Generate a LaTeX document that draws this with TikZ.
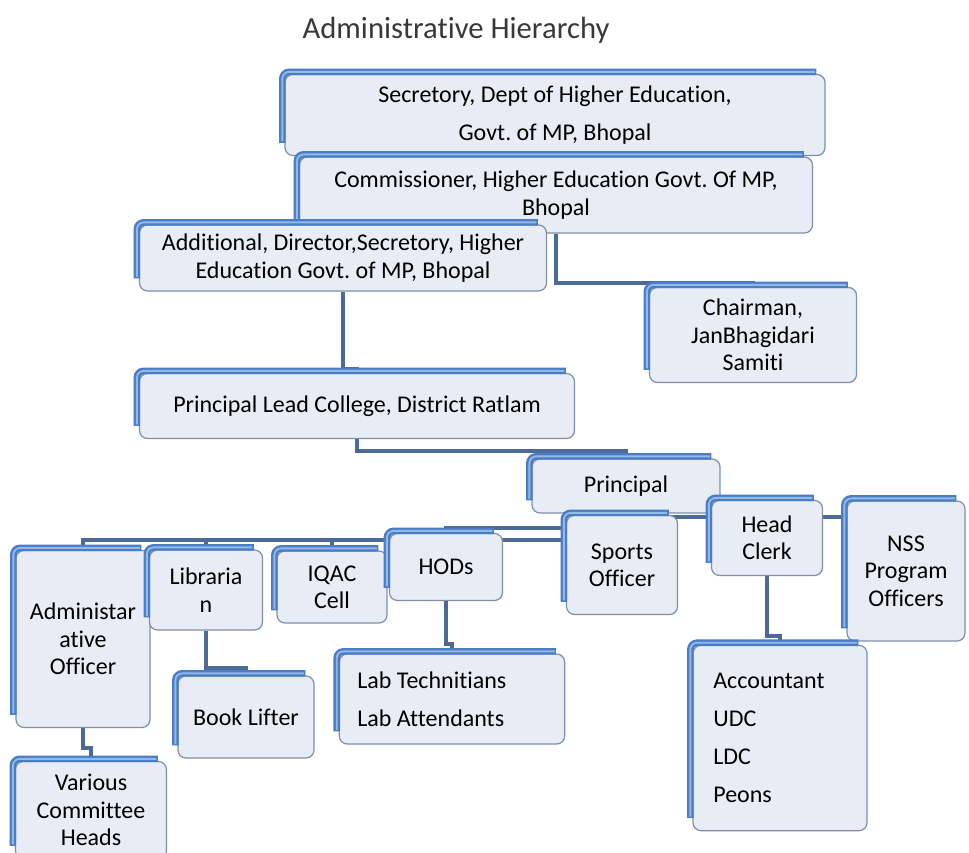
\documentclass[tikz,border=0pt]{standalone}
\usepackage{fontspec}
\setmainfont{Carlito}[Ligatures=NoCommon]
\usepackage{tikz}
\pgfdeclarelayer{background}
\pgfsetlayers{background,main}
\definecolor{boxfill}{HTML}{E7ECF5}
\definecolor{boxedge}{HTML}{7F8FA9}
\definecolor{bevelblue}{HTML}{4A7DC4}
\definecolor{bevellight}{HTML}{93B9E8}
\definecolor{connblue}{HTML}{4D6A97}
\newcommand{\boxfont}{\fontsize{18}{20.5}\selectfont}
\tikzstyle{orgbox}=[draw=boxedge,line width=0.9pt,fill=boxfill,rounded corners=6pt,inner sep=0pt,align=center,font=\boxfont]
\tikzstyle{bevel}=[draw=bevelblue,line width=5pt,rounded corners=5pt]
\tikzstyle{shine}=[draw=bevellight,line width=1.4pt,rounded corners=5pt]
\tikzstyle{conn}=[draw=connblue,line width=3pt]

\begin{document}
\frenchspacing
\begin{tikzpicture}[x=0.75pt,y=-0.75pt]
    \useasboundingbox (0,0) rectangle (969,852);
    % Title
    \node[font=\fontsize{23}{27}\selectfont,text=black!78] (title) at (456,30) {Administrative Hierarchy};
    % First we draw the boxes
    \foreach \name/\cx/\cy/\w/\h/\txt in {
        secretory/555/115/540/81/{Secretory, Dept of Higher Education,\\[8pt]Govt. of MP, Bhopal},
        commissioner/556/195/513/76/{Commissioner, Higher Education Govt. Of MP,\\Bhopal},
        additional/343/258/407/66/{Additional, Director,Secretory, Higher\\Education Govt. of MP, Bhopal},
        chairman/753/335/207/95/{Chairman,\\JanBhagidari\\Samiti},
        leadcollege/357/406/435/65/{Principal Lead College, District Ratlam},
        principal/626/486/188/54/{Principal},
        sports/622/565/111/99/{Sports\\Officer},
        clerk/767/538/111/75/{Head\\Clerk},
        nss/906/571/118/140/{NSS\\Program\\Officers},
        admin/83/639/134/177/{Administar\\ative\\Officer},
        librarian/206/590/113/80/{Libraria\\n},
        iqac/332/587/110/72/{IQAC\\Cell},
        hods/446/567/113/67/{HODs},
        booklifter/246/717/136/82/{Book Lifter},
        committee/91/810/151/97/{Various\\Committee\\Heads}}
        \node[orgbox,minimum width=\w*0.75pt,minimum height=\h*0.75pt] (\name) at (\cx,\cy) {\txt};
    \node[orgbox,align=flush left,text width=142pt,minimum width=169pt,minimum height=67.5pt] (lab) at (452,699)
        {Lab Technitians\\[8pt]Lab Attendants};
    \node[orgbox,align=flush left,text width=100pt,minimum width=130.5pt,minimum height=139pt] (accounts) at (780,738)
        {Accountant\\[8pt]UDC\\[8pt]LDC\\[8pt]Peons};
    % Blue bevel on top and left edges
    \foreach \n in {secretory,commissioner,additional,chairman,leadcollege,principal,sports,clerk,nss,admin,librarian,iqac,hods,booklifter,committee,lab,accounts}{
        \draw[bevel] ([xshift=-1.5pt,yshift=10pt]\n.south west) -- ([xshift=-1.5pt,yshift=1.5pt]\n.north west) -- ([xshift=-7pt,yshift=1.5pt]\n.north east);
        \draw[shine] ([xshift=-1.5pt,yshift=11pt]\n.south west) -- ([xshift=-1.5pt,yshift=1.5pt]\n.north west) -- ([xshift=-8pt,yshift=1.5pt]\n.north east);
    }
    % Connect boxes with elbow lines
    \begin{pgfonlayer}{background}
    \path[conn] (commissioner.south) -- ++(0,49) -| (chairman.north);
    \path[conn] (additional.south) -- ++(0,77) -| (leadcollege.north);
    \path[conn] (leadcollege.south) -- ++(0,12) -| (principal.north);
    \foreach \dest in {admin,librarian,iqac}
        \path[conn] (principal.south) -- ++(0,26) -| (\dest.north);
    \path[conn] (principal.south) -- ++(0,14) -| (hods.north);
    \foreach \dest in {clerk,nss}
        \path[conn] (principal.south) -- ++(0,3) -| (\dest.north);
    \path[conn] (admin.south) -- ++(0,20) -| (committee.north);
    \path[conn] (librarian.south) -- ++(0,37) -| (booklifter.north);
    \path[conn] (hods.south) -- ++(0,43) -| (lab.north);
    \path[conn] (clerk.south) -- ++(0,60) -| (accounts.north);
    \end{pgfonlayer}
\end{tikzpicture}
\end{document}
